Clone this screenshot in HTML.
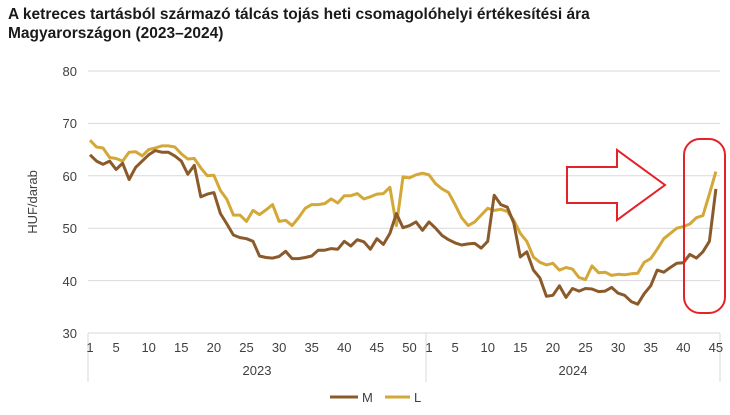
<!DOCTYPE html>
<html><head><meta charset="utf-8"><style>
body{margin:0;background:#fff;width:730px;height:415px;overflow:hidden;font-family:"Liberation Sans",Arial,sans-serif}
.t{position:absolute;left:8px;top:5px;font-weight:bold;font-size:15.5px;line-height:19px;color:#1a1a1a}
</style></head><body>
<div class="t">A ketreces tartásból származó tálcás tojás heti csomagolóhelyi értékesítési ára<br>Magyarországon (2023–2024)</div>
<svg id="s" width="730" height="415" style="position:absolute;left:0;top:0" font-family="Liberation Sans, Arial, sans-serif">
<g stroke="#d9d9d9" stroke-width="1">
<line x1="88" x2="720" y1="71" y2="71"/><line x1="88" x2="720" y1="123.4" y2="123.4"/><line x1="88" x2="720" y1="175.8" y2="175.8"/><line x1="88" x2="720" y1="228.2" y2="228.2"/><line x1="88" x2="720" y1="280.6" y2="280.6"/>
<line x1="88" x2="720" y1="333" y2="333"/>
<line x1="88" x2="88" y1="333" y2="382"/><line x1="426" x2="426" y1="333" y2="382"/><line x1="720" x2="720" y1="333" y2="382"/>
</g>
<g font-size="13" fill="#404040" text-anchor="end">
<text x="77" y="76">80</text><text x="77" y="128">70</text><text x="77" y="181">60</text><text x="77" y="233">50</text><text x="77" y="286">40</text><text x="77" y="338">30</text>
</g>
<text transform="translate(37,202) rotate(-90)" font-size="13" fill="#404040" text-anchor="middle">HUF/darab</text>
<g id="xl" font-size="13" fill="#404040" text-anchor="middle"></g>
<text x="257" y="375" font-size="13" fill="#404040" text-anchor="middle">2023</text>
<text x="573" y="375" font-size="13" fill="#404040" text-anchor="middle">2024</text>
<polyline id="L" fill="none" stroke="#d4a838" stroke-width="3" stroke-linejoin="round"/>
<polyline id="M" fill="none" stroke="#8b5a2b" stroke-width="3" stroke-linejoin="round"/>
<polygon points="567,167 617,167 617,150 665,185 617,220 617,203 567,203" fill="none" stroke="#e52228" stroke-width="2"/>
<rect x="684" y="139" width="41" height="174" rx="16" fill="none" stroke="#e52228" stroke-width="2"/>
<line x1="330" x2="358" y1="397" y2="397" stroke="#8b5a2b" stroke-width="3"/>
<text x="362" y="402" font-size="13" fill="#404040">M</text>
<line x1="385" x2="410" y1="397" y2="397" stroke="#d4a838" stroke-width="3"/>
<text x="414" y="402" font-size="13" fill="#404040">L</text>
</svg>
<script>
var L=[66.8,65.5,65.3,63.5,63.3,62.8,64.5,64.6,63.8,65.0,65.3,65.7,65.7,65.5,64.2,63.2,63.3,61.5,60.0,60.1,57.2,55.5,52.5,52.5,51.3,53.4,52.6,53.5,54.5,51.3,51.5,50.5,52.0,53.8,54.5,54.5,54.7,55.6,54.8,56.2,56.2,56.6,55.6,56.0,56.5,56.6,57.8,50.5,59.8,59.6,60.2,60.5,
60.2,58.5,57.5,56.8,54.5,52.0,50.5,51.2,52.5,53.8,53.4,53.6,53.2,51.5,49.0,47.5,44.5,43.5,43.0,43.3,42.0,42.5,42.2,40.6,40.2,42.8,41.5,41.6,41.0,41.2,41.1,41.3,41.4,43.5,44.2,46.0,48.0,49.0,50.0,50.3,50.8,52.0,52.4,56.5,60.8];
var M=[64,62.8,62.2,62.8,61.2,62.4,59.3,61.6,62.8,64.0,64.8,64.5,64.5,63.8,62.8,60.3,62.0,56.0,56.5,56.8,52.8,50.8,48.7,48.2,48.0,47.5,44.7,44.4,44.3,44.6,45.6,44.2,44.2,44.4,44.7,45.8,45.8,46.1,46.0,47.5,46.6,47.8,47.4,46.0,48.0,46.9,49.0,52.8,50.1,50.5,51.2,49.6,
51.2,50.0,48.6,47.8,47.2,46.8,47.0,47.1,46.2,47.5,56.3,54.5,54.0,51.0,44.5,45.5,42.0,40.5,37.0,37.2,39.0,36.8,38.5,38.0,38.5,38.4,37.9,38.0,38.7,37.6,37.2,36.0,35.5,37.5,39.0,42.0,41.6,42.5,43.3,43.4,45.0,44.3,45.5,47.5,57.5];
function px(i){return 90+i*6.52}function py(v){return 333-(v-30)*5.24}
function pts(a){return a.map(function(v,i){return px(i).toFixed(1)+","+py(v).toFixed(1)}).join(" ")}
document.getElementById("L").setAttribute("points",pts(L));
document.getElementById("M").setAttribute("points",pts(M));
var g=document.getElementById("xl"),h="";
[1,5,10,15,20,25,30,35,40,45,50].forEach(function(w){h+='<text x="'+px(w-1)+'" y="352">'+w+'</text>'});
[1,5,10,15,20,25,30,35,40,45].forEach(function(w){h+='<text x="'+px(w+51)+'" y="352">'+w+'</text>'});
g.innerHTML=h;
</script>
</body></html>
